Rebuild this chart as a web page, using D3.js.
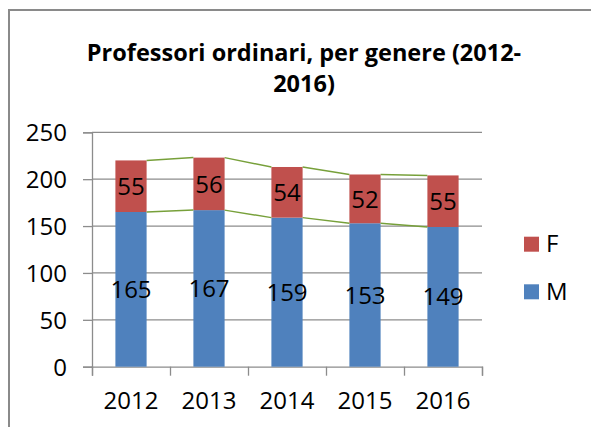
<!DOCTYPE html>
<html>
<head>
<meta charset="utf-8">
<script src="https://cdn.jsdelivr.net/npm/d3@7"></script>
<style>
  body { margin: 0; background: #fff; }
  svg text { font-family: "Open Sans", "Noto Sans", sans-serif; fill: #000; }
</style>
</head>
<body>
<div id="chart"></div>
<script>
(function(){

  //chart data
  var years = ["2012", "2013", "2014", "2015", "2016"];
  var maleValues = [165, 167, 159, 153, 149];
  var femaleValues = [55, 56, 54, 52, 55];
  var yTicks = [0, 50, 100, 150, 200, 250];
  var seriesNames = ["F", "M"];
  var titleLines = ["Professori ordinari, per genere (2012-", "2016)"];

  var colors = { M: "#4f81bd", F: "#c0504d" };

  var width = 591, height = 427;
  var plotLeft = 92, plotRight = 482, plotTop = 132.3, plotBottom = 366.7;
  var labelSize = 24;

  var svg = d3.select("#chart").append("svg")
      .attr("width", width)
      .attr("height", height);

  //outer frame (only top and left visible in crop)
  svg.append("path")
      .attr("d", "M9,427 L9,10 L591,10")
      .attr("fill", "none")
      .attr("stroke", "#8a8a8a")
      .attr("stroke-width", 2);

  //title
  svg.append("text")
      .attr("text-anchor", "middle")
      .attr("font-weight", "bold")
      .attr("font-size", 23.5)
      .selectAll("tspan")
      .data(titleLines)
      .enter()
      .append("tspan")
      .attr("x", 304)
      .attr("y", function(d, i){ return 61 + i * 31; })
      .text(function(d){ return d; });

  //scales
  var x = d3.scaleBand()
      .domain(years)
      .range([plotLeft, plotRight])
      .paddingInner(0.6)
      .paddingOuter(0.3);

  var y = d3.scaleLinear()
      .domain([0, 250])
      .range([plotBottom, plotTop]);

  var xEdge = d3.scaleLinear()
      .domain([0, years.length])
      .range([plotLeft, plotRight]);

  //gridlines
  svg.append("g")
      .selectAll("line")
      .data(yTicks.slice(1))
      .enter()
      .append("line")
      .attr("x1", plotLeft)
      .attr("x2", plotRight)
      .attr("y1", function(d){ return y(d); })
      .attr("y2", function(d){ return y(d); })
      .attr("stroke", "#8c8c8c")
      .attr("stroke-width", 1.3);

  //y axis
  var yAxis = svg.append("g")
      .attr("transform", "translate(" + plotLeft + ",0)")
      .call(d3.axisLeft(y).tickValues(yTicks).tickSize(9).tickPadding(16));
  yAxis.select(".domain").attr("stroke", "#8c8c8c").attr("stroke-width", 1.3);
  yAxis.selectAll(".tick line").attr("stroke", "#8c8c8c").attr("stroke-width", 1.3);
  yAxis.selectAll("text")
      .attr("font-size", labelSize)
      .attr("dy", "0.36em")
      .attr("fill", "#000");

  //x axis: ticks at category boundaries
  var xAxis = svg.append("g")
      .attr("transform", "translate(0," + plotBottom + ")")
      .call(d3.axisBottom(xEdge).tickValues(d3.range(years.length + 1)).tickSize(9).tickFormat(""));
  xAxis.select(".domain").attr("stroke", "#8c8c8c").attr("stroke-width", 1.3);
  xAxis.selectAll(".tick line").attr("stroke", "#8c8c8c").attr("stroke-width", 1.3);

  //x labels
  var xLabels = svg.append("g")
      .attr("transform", "translate(0," + plotBottom + ")")
      .call(d3.axisBottom(x).tickSize(0).tickPadding(0));
  xLabels.select(".domain").remove();
  xLabels.selectAll("text")
      .attr("font-size", labelSize)
      .attr("y", 42.5)
      .attr("dy", 0)
      .attr("fill", "#000");

  //stacked bars
  var rows = years.map(function(yr, i){
    return { year: yr, M: maleValues[i], F: femaleValues[i] };
  });
  var stack = d3.stack().keys(["M", "F"])(rows);

  var layers = svg.selectAll(".layer")
      .data(stack)
      .enter()
      .append("g")
      .attr("class", "layer")
      .attr("fill", function(d){ return colors[d.key]; });

  layers.selectAll("rect")
      .data(function(d){ return d; })
      .enter()
      .append("rect")
      .attr("x", function(d){ return x(d.data.year); })
      .attr("width", x.bandwidth())
      .attr("y", function(d){ return y(d[1]); })
      .attr("height", function(d){ return y(d[0]) - y(d[1]); });

  //series lines connecting tops of segments
  stack.forEach(function(layer){
    for (var i = 0; i < layer.length - 1; i++){
      svg.append("line")
          .attr("x1", x(years[i]) + x.bandwidth())
          .attr("y1", y(layer[i][1]))
          .attr("x2", x(years[i + 1]))
          .attr("y2", y(layer[i + 1][1]))
          .attr("stroke", "#77a03a")
          .attr("stroke-width", 1.5);
    }
  });

  //data labels
  layers.selectAll(".lbl")
      .data(function(d){ return d; })
      .enter()
      .append("text")
      .attr("class", "lbl")
      .attr("text-anchor", "middle")
      .attr("font-size", labelSize)
      .attr("x", function(d){ return x(d.data.year) + x.bandwidth() / 2; })
      .attr("y", function(d){ return y((d[0] + d[1]) / 2); })
      .attr("dy", "0.36em")
      .text(function(d){ return d[1] - d[0]; });

  //legend
  var legend = svg.selectAll(".legend")
      .data(seriesNames)
      .enter()
      .append("g")
      .attr("class", "legend")
      .attr("transform", function(d, i){ return "translate(524," + (236.7 + i * 47.6) + ")"; });

  legend.append("rect")
      .attr("width", 15)
      .attr("height", 15)
      .attr("fill", function(d){ return colors[d]; });

  legend.append("text")
      .attr("x", 22)
      .attr("y", 15.5)
      .attr("font-size", labelSize)
      .text(function(d){ return d; });

})();
</script>
</body>
</html>
